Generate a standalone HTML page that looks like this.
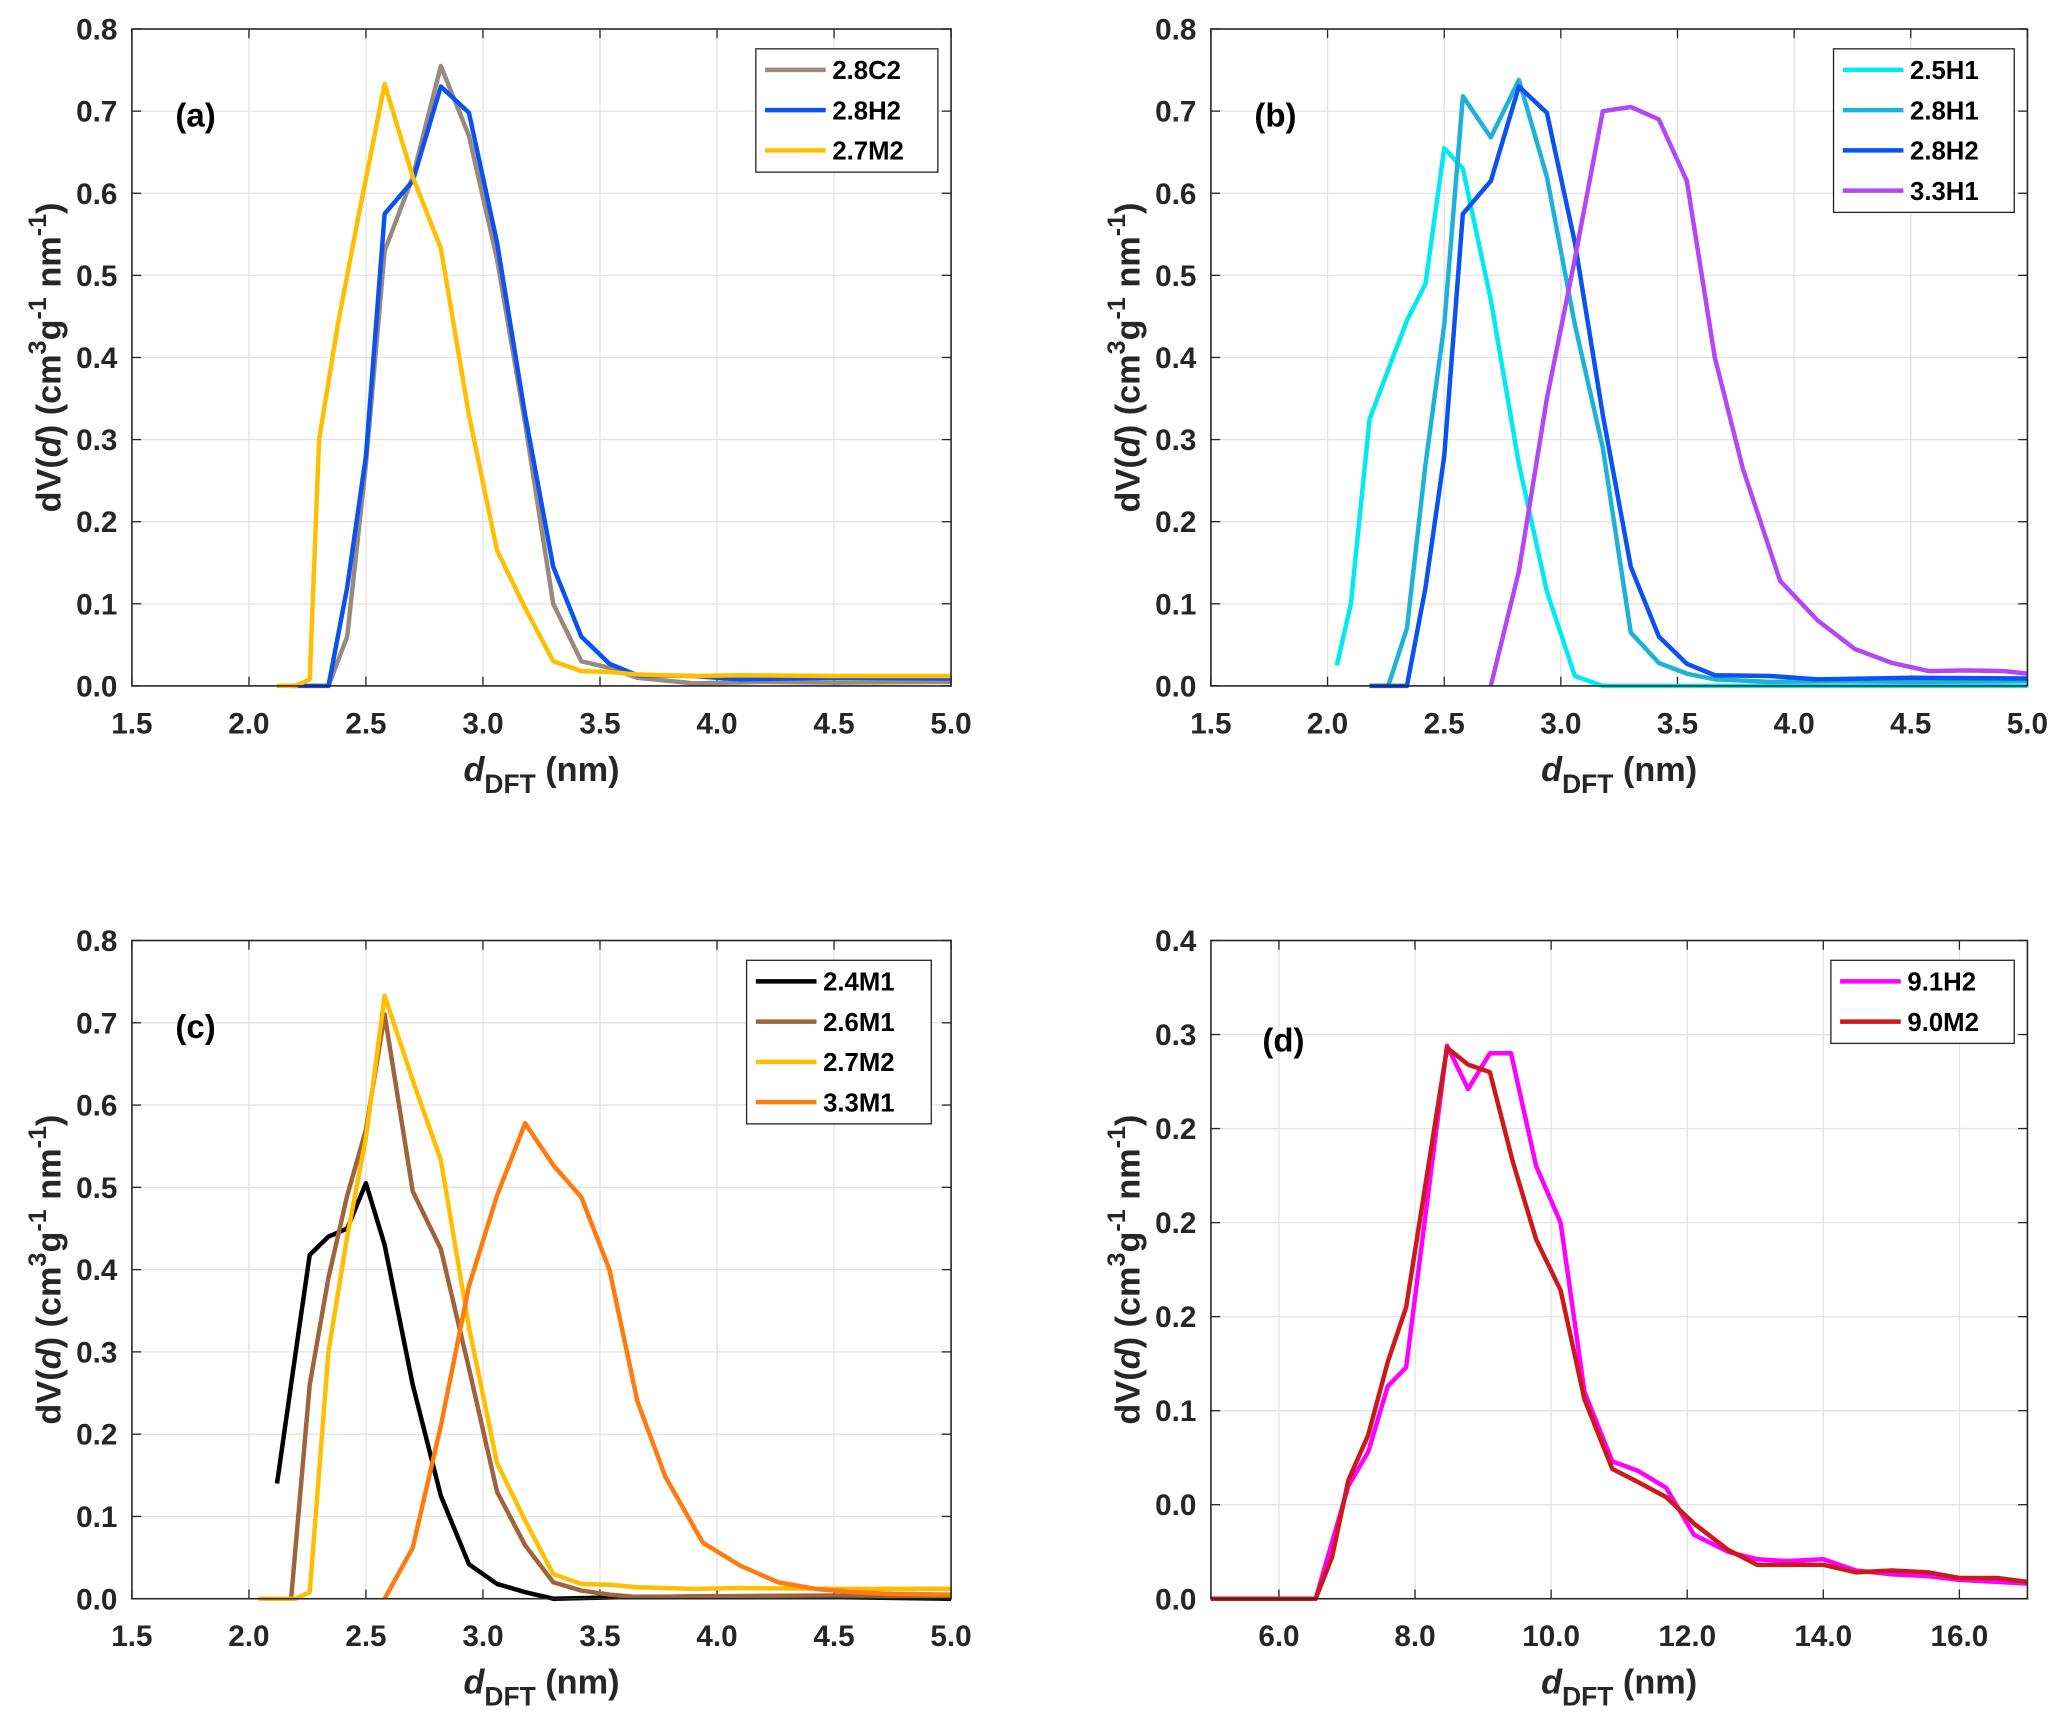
<!DOCTYPE html>
<html><head><meta charset="utf-8"><style>
html,body{margin:0;padding:0;background:#fff}
svg{display:block}
text{font-family:"Liberation Sans",Arial,sans-serif;font-weight:bold}
</style></head><body>
<svg id="fig" width="2067" height="1728" viewBox="0 0 1567 1310" xmlns="http://www.w3.org/2000/svg"></svg>
<script>
// ---- Panel (a) data ----
const aC2x=[2.34,2.42,2.5,2.58,2.7,2.82,2.94,3.06,3.18,3.3,3.42,3.54,3.66,3.9,4.2,4.5,5.0];
const aC2y=[0,0.06,0.27,0.53,0.62,0.755,0.67,0.52,0.32,0.10,0.03,0.022,0.01,0.003,0.005,0.004,0.005];
const h2x=[2.18,2.34,2.42,2.5,2.58,2.7,2.82,2.94,3.06,3.18,3.3,3.42,3.54,3.66,3.9,4.1,4.5,5.0];
const h2y=[0,0,0.12,0.28,0.575,0.615,0.73,0.698,0.54,0.33,0.145,0.06,0.027,0.013,0.012,0.008,0.01,0.009];
const m2x=[2.12,2.2,2.26,2.3,2.38,2.46,2.58,2.7,2.82,2.94,3.06,3.18,3.3,3.42,3.54,3.66,3.9,4.1,4.5,5.0];
const m2y=[0,0,0.008,0.3,0.44,0.56,0.733,0.62,0.533,0.33,0.165,0.095,0.03,0.018,0.017,0.014,0.012,0.013,0.012,0.012];
// ---- Panel (b) data ----
const h1ax=[2.04,2.1,2.18,2.26,2.34,2.42,2.5,2.58,2.7,2.82,2.94,3.06,3.18,3.5,5.0];
const h1ay=[0.025,0.1,0.325,0.385,0.445,0.49,0.655,0.63,0.47,0.27,0.115,0.012,0,0,0];
const h1bx=[2.26,2.34,2.42,2.5,2.58,2.7,2.82,2.94,3.06,3.18,3.3,3.42,3.54,3.66,3.9,4.2,4.5,5.0];
const h1by=[0,0.07,0.27,0.44,0.718,0.668,0.738,0.62,0.44,0.29,0.065,0.028,0.015,0.008,0.005,0.006,0.005,0.006];
const h1cx=[2.7,2.82,2.94,3.06,3.18,3.3,3.42,3.54,3.66,3.78,3.94,4.1,4.26,4.42,4.58,4.74,4.9,5.0];
const h1cy=[0,0.14,0.35,0.52,0.70,0.705,0.69,0.615,0.40,0.265,0.128,0.08,0.045,0.028,0.018,0.019,0.018,0.015];
// ---- Panel (c) data ----
const m1ax=[2.12,2.2,2.26,2.34,2.42,2.5,2.58,2.7,2.82,2.94,3.06,3.18,3.3,3.6,4.0,4.5,5.0];
const m1ay=[0.14,0.3,0.418,0.44,0.45,0.505,0.43,0.26,0.125,0.042,0.018,0.008,0,0.002,0.003,0.002,0];
const m1bx=[2.18,2.26,2.34,2.42,2.5,2.58,2.7,2.82,2.94,3.06,3.18,3.3,3.42,3.54,3.66,4.0,4.5,5.0];
const m1by=[0,0.26,0.39,0.49,0.57,0.71,0.495,0.425,0.28,0.13,0.065,0.02,0.01,0.005,0.002,0.003,0.004,0.003];
const m2cx=[2.04,2.2,2.26,2.34,2.42,2.5,2.58,2.7,2.82,2.94,3.06,3.18,3.3,3.42,3.54,3.66,3.9,4.1,4.5,5.0];
const m2cy=[0,0,0.008,0.3,0.44,0.56,0.733,0.63,0.533,0.33,0.165,0.095,0.03,0.018,0.017,0.014,0.012,0.013,0.012,0.012];
const m1cx=[2.58,2.7,2.82,2.94,3.06,3.18,3.3,3.42,3.54,3.66,3.78,3.94,4.1,4.26,4.42,4.58,4.74,5.0];
const m1cy=[0,0.062,0.21,0.38,0.49,0.578,0.527,0.488,0.40,0.24,0.148,0.068,0.04,0.02,0.012,0.008,0.006,0.005];
// ---- Panel (d) data ----
const dHx=[5,6.54,7.02,7.31,7.60,7.87,8.47,8.78,9.1,9.41,9.78,10.14,10.49,10.9,11.28,11.69,12.1,12.6,13.03,13.46,14.0,14.48,15.01,15.54,16.0,16.55,17];
const dHy=[0,0,0.060,0.078,0.113,0.123,0.294,0.271,0.290,0.290,0.230,0.200,0.110,0.073,0.068,0.059,0.034,0.025,0.021,0.020,0.021,0.015,0.013,0.012,0.010,0.009,0.008];
const dMx=[5,6.54,6.78,7.02,7.31,7.60,7.87,8.47,8.78,9.1,9.44,9.78,10.14,10.49,10.9,11.28,11.69,12.1,12.6,13.03,14.0,14.48,15.01,15.54,16.0,16.55,17];
const dMy=[0,0,0.022,0.063,0.087,0.126,0.155,0.293,0.284,0.280,0.232,0.191,0.164,0.106,0.069,0.062,0.054,0.040,0.026,0.018,0.018,0.014,0.015,0.014,0.011,0.011,0.009];
// ---- tick labels ----
const xTicksA=[1.5,2.0,2.5,3.0,3.5,4.0,4.5,5.0];
const yTicksA=[0,0.1,0.2,0.3,0.4,0.5,0.6,0.7,0.8];
const xTicksD=[6,8,10,12,14,16];
const yTicksD=[0,0.05,0.1,0.15,0.2,0.25,0.3,0.35];
const yLabelsD=["0.0","0.0","0.1","0.2","0.2","0.2","0.3","0.4"];

const NS="http://www.w3.org/2000/svg";
const svg=document.getElementById('fig');
function mk(tag,attrs,parent){const e=document.createElementNS(NS,tag);for(const k in attrs)e.setAttribute(k,attrs[k]);(parent||svg).appendChild(e);return e;}

function panel(cfg){
  const g=mk('g',{});
  
  
  const L=cfg.L,R=cfg.R,T=cfg.T,B=cfg.B;
  const sx=v=>L+(v-cfg.x0)/(cfg.x1-cfg.x0)*(R-L);
  const sy=v=>B-(v-cfg.y0)/(cfg.y1-cfg.y0)*(B-T);
  cfg.xt.forEach(v=>{const x=sx(v);
    const gl=mk('line',{x1:x,x2:x,y1:T,y2:B,stroke:'#e3e3e3','stroke-width':1},g);
    
    mk('line',{x1:x,x2:x,y1:B,y2:B-7,stroke:'#262626','stroke-width':1},g);
    mk('line',{x1:x,x2:x,y1:T,y2:T+7,stroke:'#262626','stroke-width':1},g);
    const t=mk('text',{x:x,y:B+36,'text-anchor':'middle','font-size':22.5,fill:'#262626'},g);
    t.textContent=cfg.xfmt(v);
    
  });
  cfg.yt.forEach((v,i)=>{const y=sy(v);
    const gl=mk('line',{x1:L,x2:R,y1:y,y2:y,stroke:'#e3e3e3','stroke-width':1},g);
    
    mk('line',{x1:L,x2:L+7,y1:y,y2:y,stroke:'#262626','stroke-width':1},g);
    mk('line',{x1:R,x2:R-7,y1:y,y2:y,stroke:'#262626','stroke-width':1},g);
    const t=mk('text',{x:L-11,y:y+8,'text-anchor':'end','font-size':22.5,fill:'#262626'},g);
    t.textContent=cfg.yl?cfg.yl[i]:v.toFixed(1);
    
  });
  cfg.series.forEach(s=>{
    const pts=s.x.map((xv,i)=>sx(xv).toFixed(1)+','+sy(s.y[i]).toFixed(1)).join(' ');
    const p=mk('polyline',{points:pts,fill:'none',stroke:s.c,'stroke-width':3.4,'stroke-linejoin':'round'},g);
    
  });
  const box=mk('rect',{x:L,y:T,width:R-L,height:B-T,fill:'none',stroke:'#262626','stroke-width':1.2},g);
  
  const lg=mk('g',{},g);
  
  const n=cfg.series.length, lw=cfg.lgW, lh=n*30.5+2;
  mk('rect',{x:cfg.lgX,y:T+15,width:lw,height:lh,fill:'#fff',stroke:'#262626','stroke-width':1},lg);
  cfg.series.forEach((s,i)=>{const y=T+31+i*30.5;
    const e=mk('g',{},lg);
    
    mk('line',{x1:cfg.lgX+7,x2:cfg.lgX+53,y1:y,y2:y,stroke:s.c,'stroke-width':3.4},e);
    const t=mk('text',{x:cfg.lgX+58,y:y+7,'font-size':19.5,fill:'#000'},e);t.textContent=s.n;
  });
  const pl=mk('text',{x:cfg.plX,y:cfg.plY,'font-size':25,fill:'#000'},g);
  pl.textContent='('+cfg.id+')';
  
  const xt=mk('text',{x:(L+R)/2,y:B+72,'text-anchor':'middle','font-size':26,fill:'#262626'},g);
  
  xt.innerHTML='<tspan font-style="italic">d</tspan><tspan font-size="20" dy="9">DFT</tspan><tspan dy="-9"> (nm)</tspan>';
  const cy=(T+B)/2, cx=cfg.ylX;
  const yt=mk('text',{x:cx,y:cy,'text-anchor':'middle','font-size':26,fill:'#262626',transform:`rotate(-90 ${cx} ${cy})`},g);
  
  yt.innerHTML='dV(<tspan font-style="italic">d</tspan>) (cm<tspan font-size="19" dy="-11">3</tspan><tspan dy="11">g</tspan><tspan font-size="19" dy="-11">-1</tspan><tspan dy="11"> nm</tspan><tspan font-size="19" dy="-11">-1</tspan><tspan dy="11">)</tspan>';
}
const f1=v=>v.toFixed(1);
panel({id:'a',L:100,R:721,T:22,B:520,x0:1.5,x1:5,y0:0,y1:0.8,xt:xTicksA,yt:yTicksA,xfmt:f1,ylX:46,
  lgX:573,lgW:138,plX:133,plY:96,
  series:[{n:'2.8C2',c:'#9a8a7e',x:aC2x,y:aC2y},{n:'2.8H2',c:'#0b52f0',x:h2x,y:h2y},{n:'2.7M2',c:'#ffbf00',x:m2x,y:m2y}]});
panel({id:'b',L:918,R:1537,T:22,B:520,x0:1.5,x1:5,y0:0,y1:0.8,xt:xTicksA,yt:yTicksA,xfmt:f1,ylX:864,
  lgX:1390,lgW:137,plX:951,plY:96,
  series:[{n:'2.5H1',c:'#00eaf0',x:h1ax,y:h1ay},{n:'2.8H1',c:'#1fb2d8',x:h1bx,y:h1by},{n:'2.8H2',c:'#0b52f0',x:h2x,y:h2y},{n:'3.3H1',c:'#b447f5',x:h1cx,y:h1cy}]});
panel({id:'c',L:100,R:721,T:713,B:1212,x0:1.5,x1:5,y0:0,y1:0.8,xt:xTicksA,yt:yTicksA,xfmt:f1,ylX:46,
  lgX:566,lgW:140,plX:133,plY:787,
  series:[{n:'2.4M1',c:'#000000',x:m1ax,y:m1ay},{n:'2.6M1',c:'#a0643c',x:m1bx,y:m1by},{n:'2.7M2',c:'#ffbf00',x:m2cx,y:m2cy},{n:'3.3M1',c:'#ff7b10',x:m1cx,y:m1cy}]});
panel({id:'d',L:918,R:1537,T:713,B:1212,x0:5,x1:17,y0:0,y1:0.35,xt:xTicksD,yt:yTicksD,yl:yLabelsD,xfmt:f1,ylX:864,
  lgX:1388,lgW:139,plX:957,plY:797,
  series:[{n:'9.1H2',c:'#ff00ff',x:dHx,y:dHy},{n:'9.0M2',c:'#cc1a1a',x:dMx,y:dMy}]});
</script>
</body></html>
